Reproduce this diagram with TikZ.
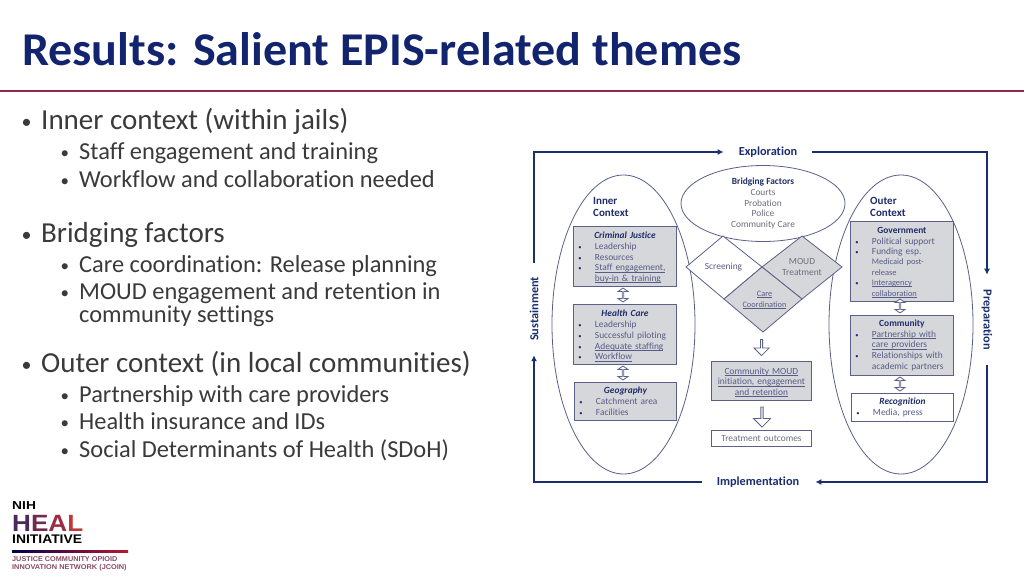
\documentclass[tikz,border=0pt]{standalone}
\usepackage{fontspec}
\setmainfont[Ligatures=NoCommon]{Carlito}
\newfontfamily\logofont{Liberation Sans}
\usetikzlibrary{shapes.geometric,shapes.arrows,arrows.meta}
\definecolor{navy}{HTML}{12246E}
\definecolor{arrowblue}{HTML}{1B2F6E}
\definecolor{rulered}{HTML}{8A2A52}
\definecolor{logosmall}{HTML}{8A4A66}
\definecolor{bodytext}{HTML}{3A3A3A}
\definecolor{boxfill}{HTML}{D6D7DB}
\definecolor{boxline}{HTML}{5A6088}
\definecolor{itemtext}{HTML}{565C86}
\definecolor{greytext}{HTML}{6C6E7C}
\definecolor{headtext}{HTML}{1F2D68}
\newcommand{\tp}[1]{\rule{0pt}{#1}}
\newcommand{\hd}[1]{\makebox[\linewidth][c]{\textcolor{headtext}{\bfseries #1}}}
\newcommand{\hdi}[1]{\makebox[\linewidth][c]{\textcolor{headtext}{\bfseries\itshape #1}}}
\newcommand{\bl}[1]{\makebox[16.5pt][l]{\textcolor{headtext}{\fontsize{6.5}{10}\selectfont •}}#1}
\newcommand{\cn}[1]{\hspace*{16.5pt}#1}
\newcommand{\ul}[1]{\leavevmode\setbox0\hbox{#1}\rlap{\rule[-1.3pt]{\wd0}{0.5pt}}\box0 }
\tikzset{
  x=1pt,y=-1pt,
  lvone/.style={anchor=base west,inner sep=0pt,text=bodytext,font=\fontsize{29}{29}\selectfont},
  lvtwo/.style={anchor=base west,inner sep=0pt,text=bodytext,font=\fontsize{24.4}{24}\selectfont},
  bulone/.style={anchor=base west,inner sep=0pt,text=bodytext,font=\fontsize{20}{20}\selectfont},
  bultwo/.style={anchor=base west,inner sep=0pt,text=bodytext,font=\fontsize{17}{17}\selectfont},
  ctx/.style={draw=boxline,line width=0.8pt,fill=none},
  boxb/.style={draw=boxline,line width=0.9pt,fill=boxfill,anchor=north west,text=itemtext,
     font=\fontsize{9.4}{10.75}\selectfont,align=left,inner xsep=5pt,inner ysep=0pt},
  whiteb/.style={boxb,fill=white},
  cyc/.style={draw=arrowblue,line width=1.8pt,line join=miter},
  cyca/.style={cyc,-{Latex[length=6pt,width=6pt]}},
  cyclab/.style={text=arrowblue,font=\fontsize{12.3}{12}\bfseries\selectfont,inner sep=0pt},
  ctxlab/.style={text=headtext,font=\fontsize{11}{12.5}\bfseries\selectfont,align=left,anchor=north west,inner sep=0pt},
  dia/.style={draw=boxline,line width=0.8pt,line join=miter},
  dlab/.style={text=greytext,font=\fontsize{9.4}{10.8}\selectfont,align=center,inner sep=0pt},
  updown/.style={double arrow,draw=boxline,fill=white,line width=0.8pt,rotate=90,minimum height=14pt,minimum width=10pt,
    double arrow head extend=2pt,inner sep=0pt,double arrow tip angle=110},
  downarr/.style={single arrow,draw=boxline,fill=white,line width=0.8pt,rotate=-90,inner sep=0pt,
    single arrow tip angle=90},
  logo/.style={anchor=base west,inner sep=0pt,text=black},
}
\begin{document}
\begin{tikzpicture}
\useasboundingbox (0,0) rectangle (1024,576);
\fill[white] (0,0) rectangle (1024,576);
% title
\node[anchor=base west,inner sep=0pt,text=navy,font=\fontsize{47}{47}\bfseries\selectfont] (title) at (22,65) {\scalebox{1.023}[1]{Results: Salient EPIS-related themes}};
\coordinate (rl) at (0,91); \coordinate (rr) at (1024,91);
\draw[rulered,line width=1.2pt] (rl) -- (rr);
% left list
\node[bulone] (b1) at (21.5,128) {•}; \node[lvone] (a1) at (41,129) {Inner context (within jails)};
\node[bultwo] (b2) at (60.5,158) {•}; \node[lvtwo] (a2) at (79,159) {Staff engagement and training};
\node[bultwo] (b3) at (60.5,186) {•}; \node[lvtwo] (a3) at (79,187) {Workflow and collaboration needed};
\node[bulone] (b4) at (21.5,241) {•}; \node[lvone] (a4) at (41,242) {Bridging factors};
\node[bultwo] (b5) at (60.5,271) {•}; \node[lvtwo] (a5) at (79,272) {Care coordination: Release planning};
\node[bultwo] (b6) at (60.5,298) {•}; \node[lvtwo] (a6) at (79,299) {MOUD engagement and retention in};
\node[lvtwo] (a7) at (79,322) {community settings};
\node[bulone] (b8) at (21.5,371) {•}; \node[lvone] (a8) at (41,372) {Outer context (in local communities)};
\node[bultwo] (b9) at (60.5,401) {•}; \node[lvtwo] (a9) at (79,402) {Partnership with care providers};
\node[bultwo] (b10) at (60.5,428) {•}; \node[lvtwo] (a10) at (79,429) {Health insurance and IDs};
\node[bultwo] (b11) at (60.5,456) {•}; \node[lvtwo] (a11) at (79,457) {Social Determinants of Health (SDoH)};
% cycle
\node[cyclab] (expl) at (768,152) {Exploration};
\node[cyclab] (impl) at (758,482) {Implementation};
\node[cyclab,rotate=90] (sust) at (534,309) {Sustainment};
\node[cyclab,rotate=-90] (prep) at (987,320) {Preparation};
\draw[cyca,shorten >=15pt,shorten <=14pt] (sust.east) |- (expl.west);
\draw[cyca,shorten >=15pt,shorten <=15pt] (expl.east) -| (prep.west);
\draw[cyca,shorten >=16pt,shorten <=15pt] (prep.east) |- (impl.east);
\draw[cyca,shorten >=14pt,shorten <=15pt] (impl.west) -| (sust.west);
% ovals
\node[ctx,ellipse,minimum width=143pt,minimum height=299pt,inner sep=0pt] (inner) at (623.5,324.5) {};
\node[ctx,ellipse,minimum width=144pt,minimum height=299pt,inner sep=0pt] (outer) at (901,324.5) {};
\node[ctx,ellipse,minimum width=164pt,minimum height=76pt,inner sep=0pt,align=center,text=greytext,font=\fontsize{9.4}{10.7}\selectfont] (bridge) at (763,203.5)
  {\textcolor{headtext}{\bfseries Bridging Factors}\\Courts\\Probation\\Police\\Community Care};
\node[ctxlab] (inlab) at (593,197) {Inner\\Context};
\node[ctxlab] (outlab) at (870,197) {Outer\\Context};
% boxes
\node[boxb,minimum width=103pt,minimum height=60pt,text width=93pt] (cj) at (573,226)
 {\tp{9pt}\hdi{Criminal Justice}\\\bl{Leadership}\\\bl{Resources}\\\bl{\ul{Staff engagement,}}\\\cn{\ul{buy-in \& training}}};
\node[boxb,minimum width=103pt,minimum height=60pt,text width=93pt] (hc) at (573,304)
 {\tp{9pt}\hdi{Health Care}\\\bl{Leadership}\\\bl{Successful piloting}\\\bl{\ul{Adequate staffing}}\\\bl{\ul{Workflow}}};
\node[boxb,minimum width=102pt,minimum height=38pt,text width=92pt] (geo) at (574,382)
 {\hdi{Geography}\\\bl{Catchment area}\\\bl{Facilities}};
\node[boxb,minimum width=103pt,minimum height=80pt,text width=93pt,font=\fontsize{9.4}{10.4}\selectfont] (gov) at (850,221)
 {\tp{8pt}\hd{Government}\\\bl{Political support}\\\bl{Funding esp.}\\\cn{\fontsize{8.4}{10.4}\selectfont Medicaid post-}\\\cn{\fontsize{8.4}{10.4}\selectfont release}\\\bl{\ul{Interagency}}\\\cn{\ul{collaboration}}};
\node[boxb,minimum width=103pt,minimum height=60pt,text width=93pt] (com) at (850,315)
 {\hd{Community}\\\bl{\ul{Partnership with}}\\\cn{\ul{care providers}}\\\bl{Relationships with}\\\cn{academic partners}};
\node[whiteb,minimum width=102pt,minimum height=28pt,text width=92pt] (rec) at (851,393)
 {\hdi{Recognition}\\\bl{Media, press}};
\node[boxb,minimum width=100pt,minimum height=39pt,text width=96pt,inner xsep=2pt,align=center] (mou) at (711,361)
 {\tp{9pt}\ul{Community MOUD}\\\ul{initiation, engagement}\\\ul{and retention}};
\node[whiteb,text=greytext,minimum width=100pt,minimum height=16pt,text width=96pt,inner xsep=2pt,align=center] (out) at (711,430) {Treatment outcomes};
% diamonds
\coordinate (dl) at (686,267); \coordinate (dt) at (723,236); \coordinate (dm) at (762,267);
\coordinate (db) at (724,299); \coordinate (mt) at (802,236); \coordinate (mr) at (842,267);
\coordinate (mb) at (802,299); \coordinate (cb) at (763,332);
\draw[dia,fill=white] (dl) -- (dt) -- (dm) -- (db) -- cycle;
\draw[dia,fill=boxfill] (dm) -- (mt) -- (mr) -- (mb) -- cycle;
\draw[dia,fill=boxfill] (db) -- (dm) -- (mb) -- (cb) -- cycle;
\node[dlab,text=itemtext] (scr) at (723.5,267.5) {Screening};
\node[dlab] (mtx) at (802,267) {MOUD\\Treatment};
\node[dlab,text=itemtext,font=\fontsize{8.3}{10.8}\selectfont] (cc) at (764.5,300) {\ul{Care}\\\ul{Coordination}};
% block arrows
\node[updown] (u1) at (623,295) {};
\node[updown] (u2) at (623,373) {};
\node[updown] (u3) at (900,306) {};
\node[updown] (u4) at (900,384) {};
\node[downarr,minimum height=16pt,minimum width=15pt,single arrow head extend=2.3pt] (d1) at (761.5,347) {};
\node[downarr,minimum height=20pt,minimum width=17pt,single arrow head extend=2.6pt] (d2) at (762,416.5) {};
% logo
\node[logo,font=\logofont\fontsize{11.5}{12}\bfseries\selectfont] (nih) at (12,509) {\scalebox{1.2}[1]{NIH}};
\node[logo,font=\logofont\fontsize{23.5}{24}\bfseries\selectfont] (heal) at (12,531.7) {\scalebox{1.11}[1]{\textcolor[HTML]{4A2A5E}{H}\textcolor[HTML]{70294F}{E}\textcolor[HTML]{9C2C42}{A}\textcolor[HTML]{BE3A36}{L}}};
\node[logo,font=\logofont\fontsize{12.5}{13}\bfseries\selectfont] (init) at (12,543.5) {\scalebox{1.11}[1]{INITIATIVE}};
\shade[left color=black!70!blue,right color=rulered!60!red] (12,550) rectangle (128,552);
\node[logo,text=logosmall,font=\logofont\fontsize{7}{8}\bfseries\selectfont] (jc1) at (12,561) {\scalebox{1.04}[1]{JUSTICE COMMUNITY OPIOID}};
\node[logo,text=logosmall,font=\logofont\fontsize{7}{8}\bfseries\selectfont] (jc2) at (12,569) {\scalebox{1.05}[1]{INNOVATION NETWORK (JCOIN)}};
\end{tikzpicture}
\end{document}
